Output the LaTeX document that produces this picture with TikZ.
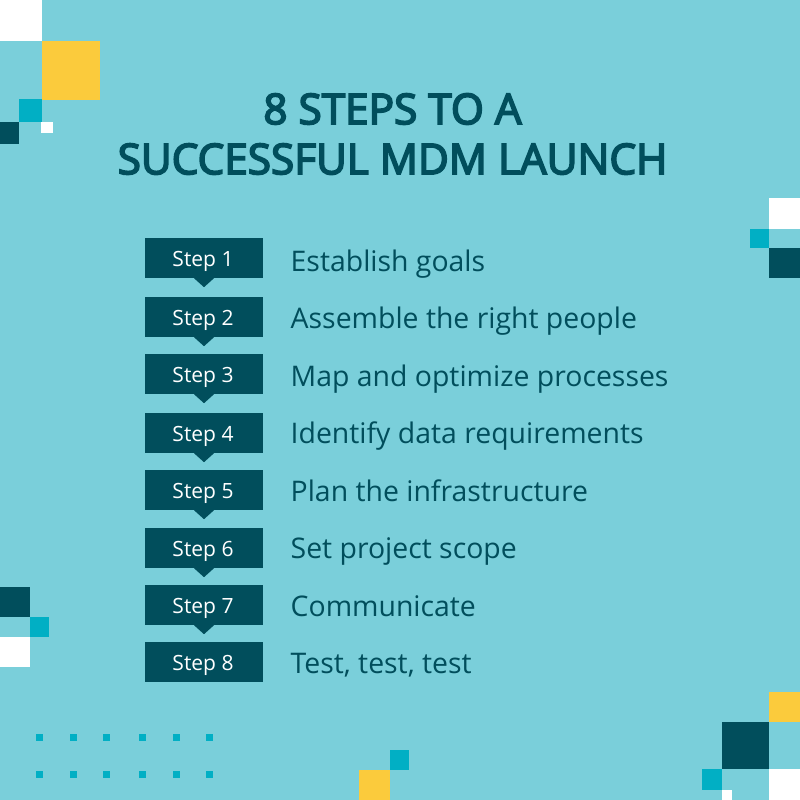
\documentclass[tikz,border=0pt]{standalone}
\usepackage{fontspec}
\setmainfont{Open Sans}
\newfontfamily\titlefont[FakeBold=4]{Open Sans}
\definecolor{bgblue}{HTML}{7ACFDA}
\definecolor{darkteal}{HTML}{014E5C}
\definecolor{midteal}{HTML}{01AFC4}
\definecolor{sunyellow}{HTML}{FBCB3C}
\tikzset{
  stepbox/.style={fill=darkteal,text=white,minimum width=118pt,minimum height=40pt,inner sep=0pt,text height=17pt,text depth=0pt,font=\fontsize{21}{24}\selectfont},
  goaltext/.style={text=darkteal,anchor=base west,inner sep=0pt,font=\fontsize{28.4}{34}\selectfont}
}

\begin{document}
\begin{tikzpicture}[x=1pt,y=-1pt]
\useasboundingbox (0,0) rectangle (800,800);
\fill[bgblue] (0,0) rectangle (800,800);
% top left
\fill[white] (0,0) rectangle (42,41);
\fill[sunyellow] (42,41) rectangle (100,100);
\fill[midteal] (19,99) rectangle (42,122);
\fill[darkteal] (0,122) rectangle (19,144);
\fill[white] (41,122) rectangle (53,133);
% right
\fill[white] (769,198) rectangle (800,229);
\fill[midteal] (750,229) rectangle (769,248);
\fill[darkteal] (769,248) rectangle (800,278);
% left
\fill[darkteal] (0,587) rectangle (30,617);
\fill[midteal] (30,617) rectangle (49,637);
\fill[white] (0,637) rectangle (30,667);
% bottom
\fill[sunyellow] (359,770) rectangle (390,800);
\fill[midteal] (390,750) rectangle (409,770);
% bottom right
\fill[sunyellow] (769,692) rectangle (800,722);
\fill[darkteal] (722,722) rectangle (769,769);
\fill[midteal] (702,769) rectangle (722,790);
\fill[white] (769,769) rectangle (800,800);
\fill[white] (722,790) rectangle (732,800);
% dots
\foreach \y in {737,774}
  \foreach \x in {39,73,106,142,176,209}
    \fill[midteal] (\x-3.5,\y-3.5) rectangle (\x+3.5,\y+3.5);
% title
\node[text=darkteal,align=center,inner sep=0pt,font=\fontsize{42.3}{50}\selectfont\titlefont] (title) at (392.5,134) {8 STEPS TO A\\SUCCESSFUL MDM LAUNCH};
% steps
\foreach \n/\y/\txt in {1/238/Establish goals,2/297/Assemble the right people,3/354/Map and optimize processes,4/413/Identify data requirements,5/470/Plan the infrastructure,6/528/Set project scope,7/585/Communicate,8/642/Test{,} test{,} test}{
  \node[stepbox] (step\n) at (204,\y+20) {Step \n\kern2pt};
  \node[goaltext] (goal\n) at (290.5,271+57.5*\n-57.5) {\txt};
}
\foreach \n in {1,...,7}
  \fill[darkteal] (step\n.south) ++(-10,0) -- ++(10,9) -- ++(10,-9) -- cycle;
\end{tikzpicture}
\end{document}
